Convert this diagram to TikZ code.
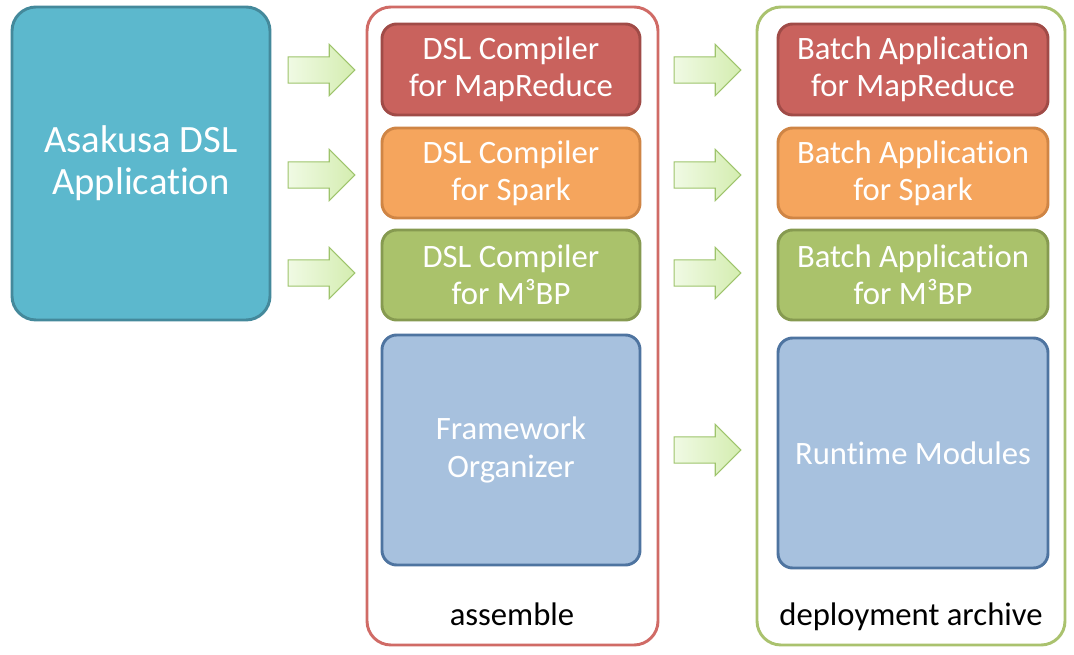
\documentclass[tikz,border=0pt]{standalone}
\usepackage{fontspec}
\setmainfont{Carlito}[Ligatures=NoCommon]
\usepackage{tikz}
\usetikzlibrary{shapes.arrows,positioning,calc}

\definecolor{appFill}{HTML}{5CB8CD}
\definecolor{appLine}{HTML}{44899B}
\definecolor{mrFill}{HTML}{C9625D}
\definecolor{mrLine}{HTML}{A04B47}
\definecolor{spFill}{HTML}{F5A55D}
\definecolor{spLine}{HTML}{CF8545}
\definecolor{m3Fill}{HTML}{AAC26B}
\definecolor{m3Line}{HTML}{869A50}
\definecolor{rtFill}{HTML}{A7C1DE}
\definecolor{rtLine}{HTML}{4E74A0}
\definecolor{asmLine}{HTML}{D06B66}
\definecolor{depLine}{HTML}{AAC26E}
\definecolor{arrL}{HTML}{F0FAE4}
\definecolor{arrR}{HTML}{D4EDB0}
\definecolor{arrLine}{HTML}{9EC46C}

\begin{document}
\begin{tikzpicture}[
  x=0.75pt, y=-0.75pt,
  app/.style   ={draw=appLine, fill=appFill, line width=2.2pt, rounded corners=18pt,
                 minimum width=193.5pt, minimum height=234.75pt, text=white,
                 align=center, font=\fontsize{29}{31.5}\selectfont},
  group/.style ={draw, line width=2.2pt, rounded corners=18pt, fill=white,
                 minimum height=478.5pt},
  seg/.style   ={line width=2.2pt, rounded corners=11pt, text=white, align=center,
                 font=\fontsize{24.5}{28}\selectfont},
  cMR/.style   ={draw=mrLine, fill=mrFill, minimum height=68.25pt},
  cSP/.style   ={draw=spLine, fill=spFill, minimum height=67.5pt},
  cM3/.style   ={draw=m3Line, fill=m3Fill, minimum height=67.5pt},
  cRT/.style   ={draw=rtLine, fill=rtFill, minimum height=172.5pt},
  fat/.style   ={single arrow, draw=arrLine, line width=0.8pt, left color=arrL,
                 right color=arrR, minimum height=50pt, minimum width=37.5pt,
                 single arrow head extend=9.4pt, inner sep=9.4pt},
  caption/.style={font=\fontsize{24.5}{28}\selectfont, anchor=base}
]
\useasboundingbox (0,0) rectangle (1074,655);

% source application
\node[app] (asakusa) at (141,163.5) {Asakusa DSL\\Application};

% containers
\node[group, draw=asmLine, minimum width=218.25pt] (assemble) at (512.5,326) {};
\node[group, draw=depLine, minimum width=231pt] (archive) at (911,326) {};

% compilers (assemble)
\node[seg,cMR, minimum width=193.5pt] (compMR) at (511,69.5) {DSL Compiler\\for MapReduce};
\node[seg,cSP, minimum width=193.5pt] (compSP) at (511,173) {DSL Compiler\\for Spark};
\node[seg,cM3, minimum width=193.5pt] (compM3) at (511,275) {DSL Compiler\\for M³BP};
\node[seg,cRT, minimum width=193.5pt] (organizer) at (511,450) {Framework\\Organizer};

% batch applications (deployment archive)
\node[seg,cMR, minimum width=202.5pt] (batchMR) at (913,69.5) {Batch Application\\for MapReduce};
\node[seg,cSP, minimum width=202.5pt] (batchSP) at (913,173) {Batch Application\\for Spark};
\node[seg,cM3, minimum width=202.5pt] (batchM3) at (913,275) {Batch Application\\for M³BP};
\node[seg,cRT, minimum width=202.5pt] (runtime) at (913,453) {Runtime Modules};

% captions
\node[caption] (asmC) at (512,625) {assemble};
\node[caption] (depC) at (911,625) {deployment archive};

% block arrows
\foreach \n/\y in {inMR/70, inSP/175, inM3/273}{
  \node[fat] (\n) at (315,\y) {};
}
\foreach \n/\y in {outMR/70, outSP/175, outM3/273, outRT/450}{
  \node[fat] (\n) at (701,\y) {};
}

\end{tikzpicture}
\end{document}
